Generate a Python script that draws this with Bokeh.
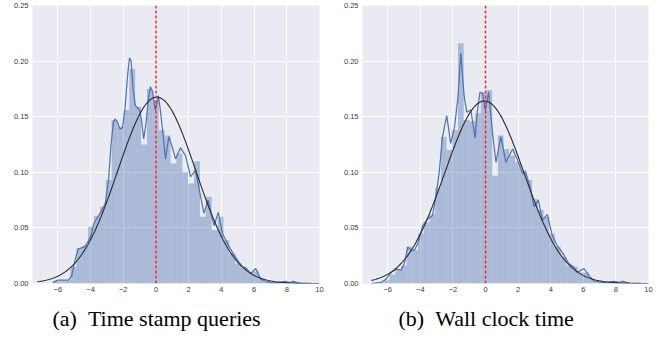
import numpy as np
from bokeh.plotting import figure
from bokeh.layouts import row
from bokeh.models import FixedTicker, Title, Span
from bokeh.embed import file_html
from bokeh.resources import INLINE

# ---------------- data: panel (a) Time stamp queries ----------------
a_bin_left = [-6.31, -5.95, -5.59, -5.23, -4.87, -4.51, -4.15, -3.79, -3.43, -3.07,
              -2.71, -2.35, -1.99, -1.63, -1.27, -0.91, -0.55, -0.19, 0.17, 0.53,
              0.89, 1.25, 1.61, 1.97, 2.33, 2.69, 3.05, 3.41, 3.77, 4.13,
              4.49, 4.85, 5.21, 5.57, 5.93, 6.29, 6.65, 7.01, 7.37, 7.73,
              8.09, 8.45]
a_bin_right = [-5.95, -5.59, -5.23, -4.87, -4.51, -4.15, -3.79, -3.43, -3.07, -2.71,
               -2.35, -1.99, -1.63, -1.27, -0.91, -0.55, -0.19, 0.17, 0.53, 0.89,
               1.25, 1.61, 1.97, 2.33, 2.69, 3.05, 3.41, 3.77, 4.13, 4.49,
               4.85, 5.21, 5.57, 5.93, 6.29, 6.65, 7.01, 7.37, 7.73, 8.09,
               8.45, 8.81]
a_density = [0.002, 0.002, 0.003, 0.015, 0.032, 0.034, 0.051, 0.061, 0.069, 0.093,
             0.147, 0.141, 0.156, 0.193, 0.159, 0.125, 0.175, 0.165, 0.138, 0.133,
             0.108, 0.117, 0.100, 0.090, 0.110, 0.060, 0.078, 0.048, 0.060, 0.039,
             0.027, 0.018, 0.014, 0.010, 0.011, 0.005, 0.002, 0.001, 0.0015, 0.002,
             0.001, 0.001]
a_kde_x = [-6.3, -6.0, -5.6, -5.35, -5.15, -4.95, -4.75, -4.55, -4.35, -4.15, -4.0,
           -3.8, -3.5, -3.3, -3.1, -2.9, -2.75, -2.6, -2.5, -2.35, -2.2, -2.05, -1.9,
           -1.75, -1.62, -1.52, -1.4, -1.26, -1.0, -0.9, -0.75, -0.6, -0.45, -0.34,
           -0.2, -0.05, 0.05, 0.15, 0.25, 0.38, 0.58, 0.79, 0.99, 1.2, 1.5, 1.81,
           2.12, 2.42, 2.73, 2.94, 3.18, 3.55, 3.81, 4.06, 4.37, 4.68, 4.98, 5.29,
           5.5, 5.8, 6.1, 6.4, 6.7, 7.0, 7.4, 7.9, 8.15, 8.4, 8.7, 9.0]
a_kde_y = [0.001, 0.003, 0.003, 0.003, 0.007, 0.021, 0.031, 0.032, 0.033, 0.038, 0.042,
           0.054, 0.061, 0.066, 0.072, 0.093, 0.125, 0.145, 0.148, 0.145, 0.139, 0.14, 0.156,
           0.185, 0.203, 0.2, 0.175, 0.16, 0.156, 0.148, 0.13, 0.145, 0.168, 0.177,
           0.172, 0.156, 0.162, 0.169, 0.158, 0.141, 0.112, 0.132, 0.123, 0.112, 0.122, 0.115,
           0.096, 0.102, 0.078, 0.063, 0.075, 0.052, 0.064, 0.045, 0.036, 0.028, 0.021, 0.015,
           0.014, 0.009, 0.0135, 0.004, 0.002, 0.0008, 0.0005, 0.002, 0.0008, 0.002, 0.0003, 0.0]
a_fit_mean = 0.05
a_fit_std = 2.38
a_fit_from = -7.25

# ---------------- data: panel (b) Wall clock time ----------------
b_bin_left = [-6.59, -6.24, -5.89, -5.54, -5.19, -4.84, -4.49, -4.14, -3.79, -3.44,
              -3.09, -2.74, -2.39, -2.04, -1.69, -1.34, -0.99, -0.64, -0.29, 0.06,
              0.41, 0.76, 1.11, 1.46, 1.81, 2.16, 2.51, 2.86, 3.21, 3.56,
              3.91, 4.26, 4.61, 4.96, 5.31, 5.66, 6.01, 6.36, 6.71, 7.06,
              7.41, 7.76, 8.11, 8.46]
b_bin_right = [-6.24, -5.89, -5.54, -5.19, -4.84, -4.49, -4.14, -3.79, -3.44, -3.09,
               -2.74, -2.39, -2.04, -1.69, -1.34, -0.99, -0.64, -0.29, 0.06, 0.41,
               0.76, 1.11, 1.46, 1.81, 2.16, 2.51, 2.86, 3.21, 3.56, 3.91,
               4.26, 4.61, 4.96, 5.31, 5.66, 6.01, 6.36, 6.71, 7.06, 7.41,
               7.76, 8.11, 8.46, 8.81]
b_density = [0.001, 0.003, 0.008, 0.012, 0.016, 0.033, 0.030, 0.045, 0.055, 0.062,
             0.086, 0.132, 0.120, 0.138, 0.216, 0.147, 0.146, 0.153, 0.172, 0.174,
             0.097, 0.133, 0.121, 0.115, 0.109, 0.102, 0.093, 0.076, 0.066, 0.060,
             0.045, 0.033, 0.024, 0.016, 0.015, 0.010, 0.010, 0.004, 0.002, 0.001,
             0.001, 0.002, 0.001, 0.001]
b_kde_x = [-7.0, -6.4, -6.1, -5.79, -5.48, -5.18, -4.98, -4.77, -4.57, -4.36, -4.16,
           -3.86, -3.56, -3.25, -3.05, -2.85, -2.64, -2.38, -2.14, -1.9, -1.69, -1.52,
           -1.31, -1.15, -0.9, -0.64, -0.5, -0.34, -0.18, -0.02, 0.19, 0.43, 0.64,
           0.94, 1.25, 1.66, 1.96, 2.27, 2.47, 2.78, 2.98, 3.24, 3.49, 3.79, 4.1,
           4.4, 4.71, 5.11, 5.4, 5.63, 6.04, 6.35, 6.65, 7.27, 7.88, 8.19, 8.45, 8.9]
b_kde_y = [0.0, 0.001, 0.004, 0.010, 0.013, 0.012, 0.018, 0.033, 0.030, 0.030, 0.036,
           0.052, 0.058, 0.061, 0.078, 0.099, 0.132, 0.151, 0.126, 0.141, 0.168, 0.207,
           0.168, 0.154, 0.156, 0.131, 0.155, 0.172, 0.171, 0.156, 0.172, 0.135, 0.109,
           0.132, 0.109, 0.121, 0.111, 0.099, 0.100, 0.084, 0.069, 0.075, 0.057, 0.062, 0.043,
           0.034, 0.028, 0.018, 0.015, 0.010, 0.0135, 0.0068, 0.0025, 0.0007, 0.002, 0.001, 0.002, 0.0]
b_fit_mean = -0.07
b_fit_std = 2.43
b_fit_from = -7.0

x_ticks = [-6, -4, -2, 0, 2, 4, 6, 8, 10]
y_ticks = [0.0, 0.05, 0.10, 0.15, 0.20, 0.25]
y_tick_labels = ["0.00", "0.05", "0.10", "0.15", "0.20", "0.25"]
captions = ["(a)\u00a0\u00a0Time stamp queries", "(b)\u00a0\u00a0Wall clock time"]

BAR = "#4C72B0"


def panel(left, right, dens, kx, ky, mu, sd, x0, caption, width, bl, br, cap_off):
    p = figure(width=width, height=339, x_range=(-7.55, 10), y_range=(0, 0.25),
               output_backend="svg", toolbar_location=None,
               min_border_left=bl, min_border_right=br, min_border_top=5,
               min_border_bottom=56)
    p.background_fill_color = "#EAEAF2"
    p.border_fill_color = "white"
    p.outline_line_color = None
    p.grid.grid_line_color = "white"
    p.grid.grid_line_width = 1
    for ax in (p.xaxis[0], p.yaxis[0]):
        ax.axis_line_color = None
        ax.major_tick_line_color = None
        ax.minor_tick_line_color = None
        ax.major_tick_out = 0
        ax.major_tick_in = 0
        ax.minor_tick_out = 0
        ax.minor_tick_in = 0
        ax.major_label_text_font = "Liberation Sans"
        ax.major_label_text_font_size = "7.5px"
        ax.major_label_text_color = "#3a3a3a"
    p.xaxis.ticker = FixedTicker(ticks=x_ticks)
    p.xaxis.major_label_overrides = {t: (str(t).replace("-", "\u2212")) for t in x_ticks}
    p.xaxis.major_label_standoff = 3
    p.yaxis.ticker = FixedTicker(ticks=y_ticks)
    p.yaxis.major_label_overrides = dict(zip(y_ticks, y_tick_labels))
    p.yaxis.major_label_standoff = 4

    p.quad(left=left, right=right, bottom=0, top=dens, fill_color=BAR,
           fill_alpha=0.4, line_color=None)
    p.line(kx, ky, line_color=BAR, line_width=1.2)
    fx = np.linspace(x0, 10, 300)
    fy = np.exp(-0.5 * ((fx - mu) / sd) ** 2) / (sd * np.sqrt(2 * np.pi))
    p.line(fx, fy, line_color="#2a2a2a", line_width=1.1)
    p.add_layout(Span(location=0, dimension="height", line_color="#ff1a1a",
                      line_dash="3 2", line_width=1.4))
    t = Title(text=caption, align="left", offset=cap_off, text_font="Liberation Serif",
              text_font_size="22px", text_font_style="normal", text_color="black",
              standoff=18)
    p.add_layout(t, "below")
    return p


pa = panel(a_bin_left, a_bin_right, a_density, a_kde_x, a_kde_y, a_fit_mean, a_fit_std,
           a_fit_from, captions[0], 335, 32, 16, 20)
pb = panel(b_bin_left, b_bin_right, b_density, b_kde_x, b_kde_y, b_fit_mean, b_fit_std,
           b_fit_from, captions[1], 333, 27, 20, 36)

layout = row(pa, pb, spacing=0)
open("out.html", "w").write(file_html(layout, INLINE))
